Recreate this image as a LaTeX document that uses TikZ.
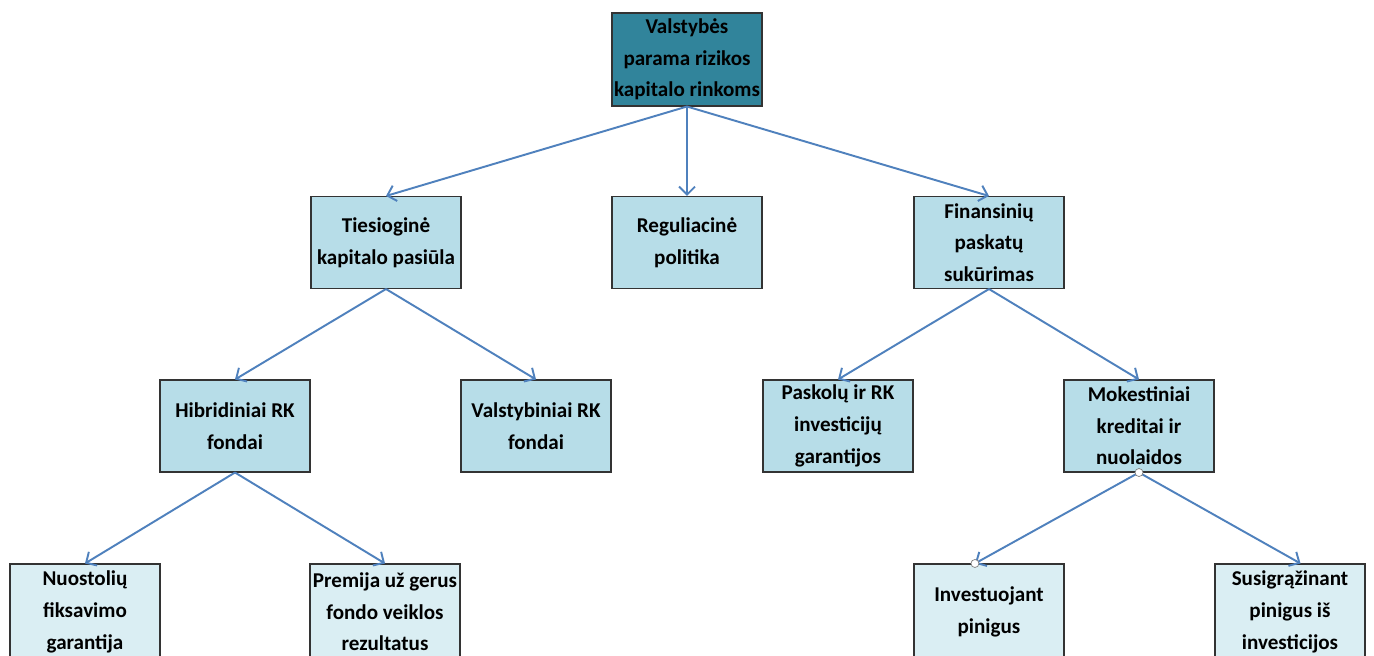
\documentclass[tikz,border=0pt]{standalone}
\usepackage{fontspec}
\setmainfont{Carlito}
\usetikzlibrary{arrows.meta}
\definecolor{darkteal}{HTML}{31849B}
\definecolor{midblue}{HTML}{B7DDE8}
\definecolor{paleblue}{HTML}{DAEEF3}
\definecolor{linkblue}{HTML}{4F81BD}
\tikzset{
  box/.style={draw=black!80, line width=0.6pt, minimum width=3cm, minimum height=1.84cm,
    align=center, inner sep=0pt,
    font=\fontsize{12}{18}\selectfont\bfseries},
  rootbox/.style={box, fill=darkteal, minimum height=1.86cm},
  midbox/.style={box, fill=midblue},
  leafbox/.style={box, fill=paleblue, minimum height=1.92cm},
  link/.style={draw=linkblue, line width=1.1pt, -{Straight Barb[length=1.6mm,width=3.2mm]}},
  handle/.style={draw=gray, fill=white, line width=0.4pt}
}
\begin{document}
\begin{tikzpicture}[x=0.02cm, y=-0.02cm]
  \clip (0,0) rectangle (1374,656);
  \fill[white] (0,0) rectangle (1374,656);

  % Top
  \node[rootbox] (root) at (687,59.5) {Valstybės\\parama rizikos\\kapitalo rinkoms};

  % First level
  \node[midbox] (tie) at (386,242.5) {Tiesioginė\\kapitalo pasiūla};
  \node[midbox] (reg) at (687,242.5) {Reguliacinė\\politika};
  \node[midbox] (fin) at (989,242.5) {Finansinių\\paskatų\\sukūrimas};

  % Second level
  \node[midbox] (hib) at (235,426) {Hibridiniai RK\\fondai};
  \node[midbox] (val) at (536,426) {Valstybiniai RK\\fondai};
  \node[midbox] (pas) at (838,426) {Paskolų ir RK\\investicijų\\garantijos};
  \node[midbox] (mok) at (1139,426) {Mokestiniai\\kreditai ir\\nuolaidos};

  % Third level (cut by the page edge)
  \node[leafbox] (nuo) at (85,612) {Nuostolių\\fiksavimo\\garantija};
  \node[leafbox] (pre) at (385,612) {Premija už gerus\\fondo veiklos\\rezultatus};
  \node[leafbox] (inv) at (989,612) {Investuojant\\pinigus};
  \node[leafbox] (sus) at (1290,612) {Susigrąžinant\\pinigus iš\\investicijos};

  % Connectors
  \draw[link] (root.south) -- (tie.north);
  \draw[link] (root.south) -- (reg.north);
  \draw[link] (root.south) -- (fin.north);
  \draw[link] (tie.south) -- (hib.north);
  \draw[link] (tie.south) -- (val.north);
  \draw[link] (fin.south) -- (pas.north);
  \draw[link] (fin.south) -- (mok.north);
  \draw[link] (hib.south) -- (nuo.north);
  \draw[link] (hib.south) -- (pre.north);
  \draw[link] (mok.south) -- ([xshift=-8]inv.north);
  \draw[link] (mok.south) -- ([xshift=6]sus.north);

  % Selection handles
  \draw[handle] (mok.south) circle (4);
  \draw[handle] ([xshift=-8]inv.north) circle (4);
\end{tikzpicture}
\end{document}
